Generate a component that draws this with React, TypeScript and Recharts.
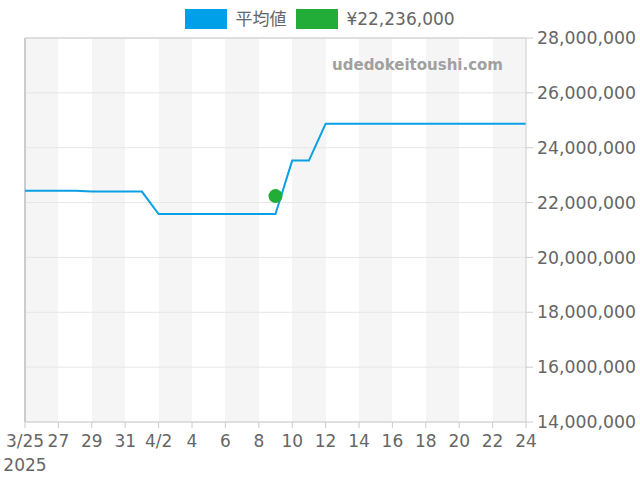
import React from 'react'
import {
  LineChart,
  Line,
  XAxis,
  YAxis,
  CartesianGrid,
  ReferenceLine,
} from 'recharts'

const dates = [
  '3/25', '3/26', '3/27', '3/28', '3/29', '3/30', '3/31', '4/1', '4/2', '4/3', '4/4',
  '4/5', '4/6', '4/7', '4/8', '4/9', '4/10', '4/11', '4/12', '4/13', '4/14', '4/15',
  '4/16', '4/17', '4/18', '4/19', '4/20', '4/21', '4/22', '4/23', '4/24',
]

const avgPrice = [
  22430000, 22430000, 22430000, 22430000, 22400000, 22400000, 22400000, 22400000,
  21580000, 21580000, 21580000, 21580000, 21580000, 21580000, 21580000, 21580000,
  23530000, 23530000, 24870000, 24870000, 24870000, 24870000, 24870000, 24870000,
  24870000, 24870000, 24870000, 24870000, 24870000, 24870000, 24870000,
]

const listingDate = '4/9'
const listingPrice = 22236000

const xTicks = [0, 2, 4, 6, 8, 10, 12, 14, 16, 18, 20, 22, 24, 26, 28, 30]
const xTickLabels = ['3/25', '27', '29', '31', '4/2', '4', '6', '8', '10', '12', '14', '16', '18', '20', '22', '24']
const yearLabel = '2025'
const yTicks = [14000000, 16000000, 18000000, 20000000, 22000000, 24000000, 26000000, 28000000]

const BLUE = '#0aa0e6'
const GREEN = '#22ad38'
const FONT = '"DejaVu Sans", "Noto Sans CJK JP", sans-serif'

const data = dates.map((d, i) => ({
  day: i,
  avg: avgPrice[i],
  listing: d === listingDate ? listingPrice : null,
}))

function DateTick(props: any) {
  const { x, y, payload } = props
  const idx = xTicks.indexOf(payload.value)
  return (
    <text x={x} y={y} textAnchor="middle" fill="#666" fontSize={17} fontFamily={FONT}>
      <tspan x={x} dy={17}>{xTickLabels[idx]}</tspan>
      {idx === 0 && <tspan x={x} dy={24}>{yearLabel}</tspan>}
    </text>
  )
}

export default function App() {
  return (
    <div style={{ position: 'absolute', left: 0, top: 0, width: 640, height: 480, fontFamily: FONT }}>
      <div
        style={{
          position: 'absolute', top: 9, left: 0, width: 640,
          display: 'flex', justifyContent: 'center', alignItems: 'center',
          fontSize: 17, color: '#666', lineHeight: '20px',
        }}
      >
        <span style={{ width: 42, height: 20, background: '#00a0e9', marginRight: 8 }} />
        <span style={{ marginRight: 10 }}>平均値</span>
        <span style={{ width: 42, height: 20, background: GREEN, marginRight: 8 }} />
        <span>¥22,236,000</span>
      </div>
      <LineChart
        width={640}
        height={480}
        data={data}
        margin={{ top: 38, right: 0, bottom: 0, left: 25 }}
      >
        {/* alternating 2-day bands */}
        <CartesianGrid horizontal={false} vertical={true} stroke="none" verticalFill={['#f5f5f5', '#ffffff']} />
        <CartesianGrid vertical={false} stroke="#e6e6e6" />
        <XAxis
          dataKey="day"
          type="number"
          domain={[0, 30]}
          ticks={xTicks}
          interval={0}
          height={58}
          tick={<DateTick />}
          tickSize={6}
          tickMargin={2}
          axisLine={{ stroke: '#ccc' }}
          tickLine={{ stroke: '#ccc' }}
        />
        <YAxis
          orientation="right"
          domain={[14000000, 28000000]}
          ticks={yTicks}
          interval={0}
          width={114}
          tickSize={7}
          tickMargin={4}
          tickFormatter={(v: number) => v.toLocaleString('en-US')}
          tick={{ fill: '#666', fontSize: 17.3, fontFamily: FONT, textAnchor: 'start' }}
          axisLine={{ stroke: '#ccc' }}
          tickLine={{ stroke: '#ccc' }}
        />
        <ReferenceLine y={28000000} stroke="#ccc" />
        <ReferenceLine x={0} stroke="#ccc" strokeWidth={2} />
        <text x={503} y={70} textAnchor="end" fontSize={15} fontWeight="bold" fill="#a0a0a0" fontFamily={FONT}>
          udedokeitoushi.com
        </text>
        <Line
          type="linear"
          dataKey="avg"
          stroke={BLUE}
          strokeWidth={2}
          dot={false}
          activeDot={false}
          isAnimationActive={false}
        />
        <Line
          type="linear"
          dataKey="listing"
          stroke="none"
          dot={{ r: 7, fill: GREEN, stroke: 'none' }}
          activeDot={false}
          isAnimationActive={false}
        />
      </LineChart>
    </div>
  )
}
